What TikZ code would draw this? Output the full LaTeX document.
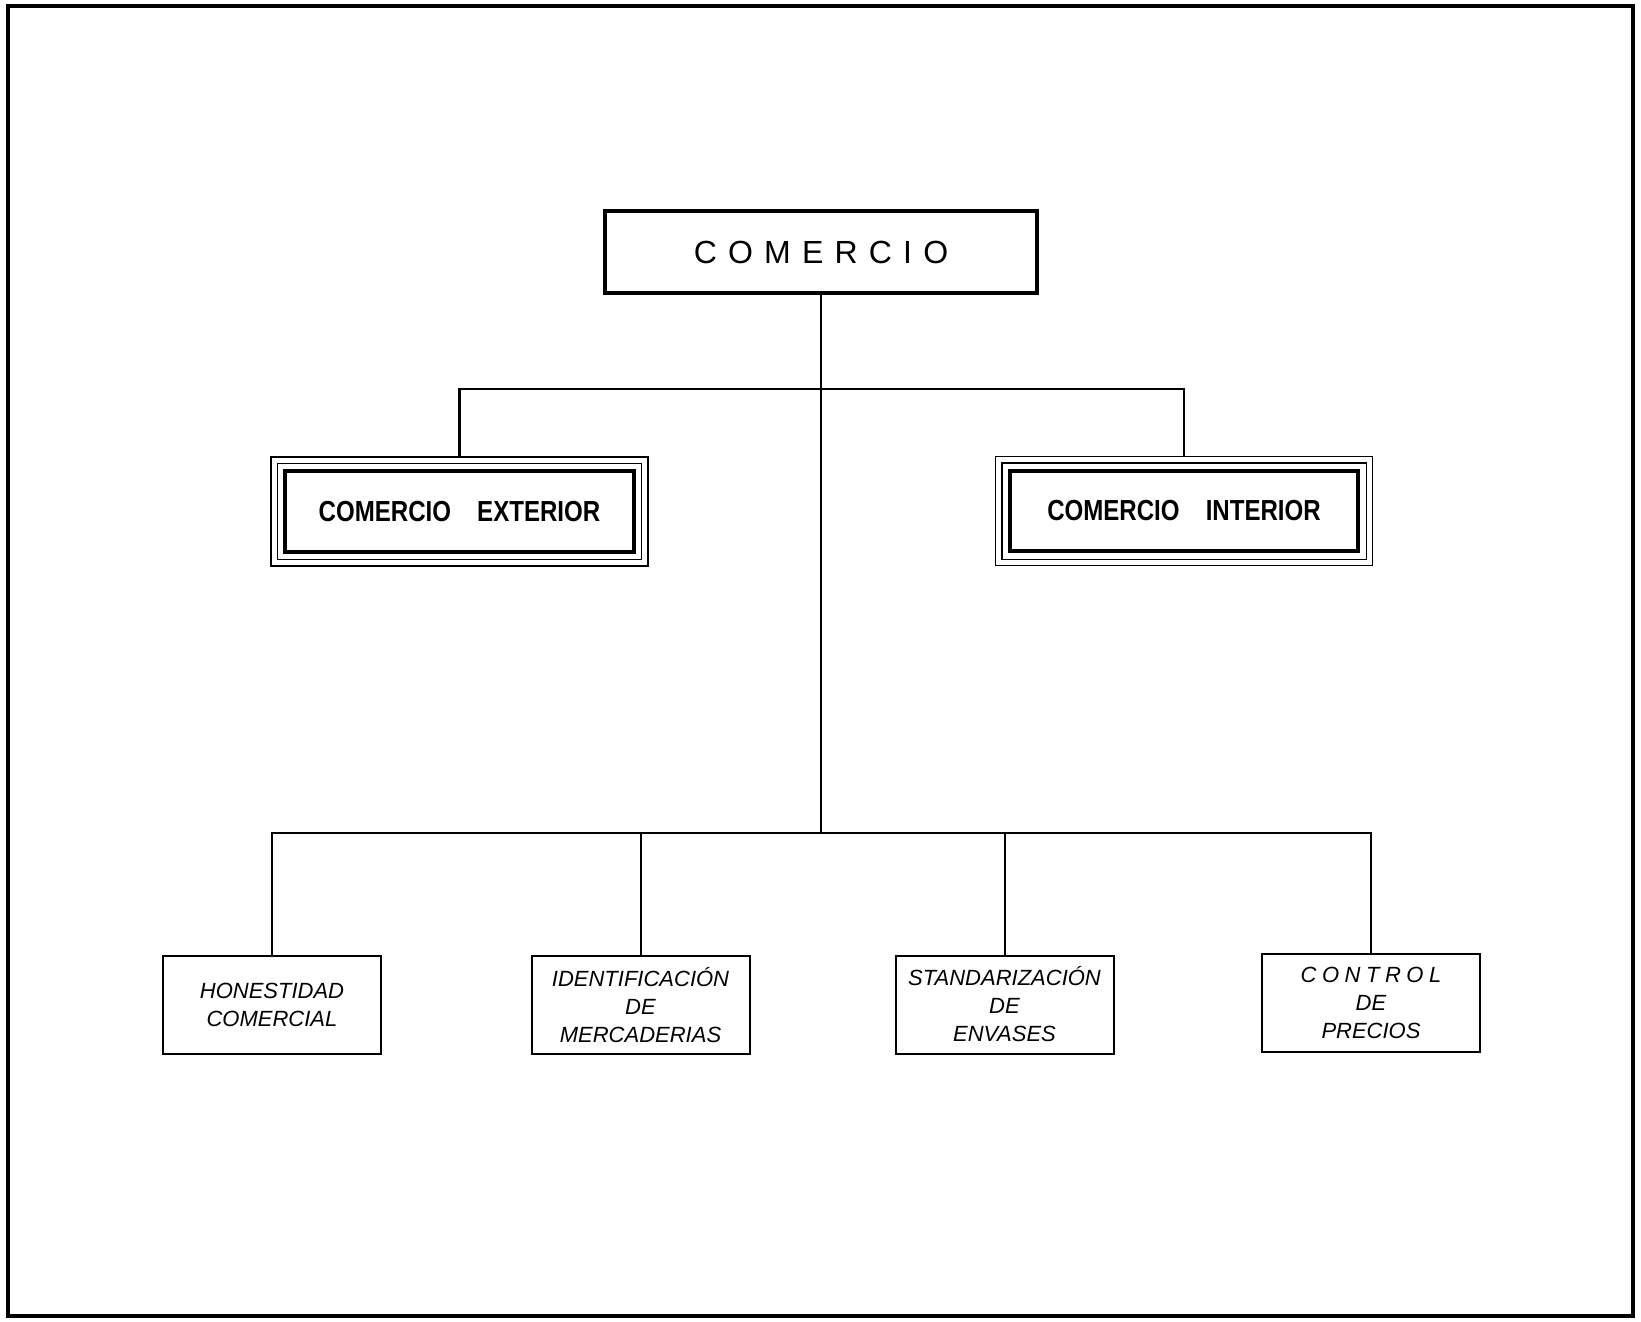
\documentclass[tikz,border=0pt]{standalone}
\usepackage{fontspec}
\setmainfont{Liberation Sans}
\newfontfamily\headfont[LetterSpace=35]{Liberation Sans}
\newfontfamily\areafont[FakeStretch=0.83]{Liberation Sans}
\newfontfamily\spacedfont[LetterSpace=25]{Liberation Sans}
\usetikzlibrary{positioning}

\begin{document}
\begin{tikzpicture}[x=0.5pt, y=-0.5pt,
  topbox/.style={draw, line width=2pt, minimum width=216pt, minimum height=40.5pt, font=\headfont\fontsize{16}{19}\selectfont},
  areabox/.style={draw, line width=0.7pt, minimum width=188.5pt, minimum height=54.5pt, font=\areafont\bfseries\fontsize{14.5}{17}\selectfont},
  taskbox/.style={draw, line width=1pt, minimum width=109pt, minimum height=49pt, align=center, font=\itshape\fontsize{11}{14}\selectfont},
  link/.style={line width=1pt}]
  \useasboundingbox (0,0) rectangle (1641,1321);
  % sheet frame
  \draw[line width=2pt] (8,6) rectangle (1633,1316);
  % head
  \node[topbox] (comercio) at (821,252) {COMERCIO};
  % two areas, framed three times
  \node[areabox] (exterior) at (459.5,511.5) {COMERCIO\hspace{0.9em}EXTERIOR};
  \node[areabox] (interior) at (1184,511) {COMERCIO\hspace{0.9em}INTERIOR};
  \foreach \n in {exterior,interior}{
    \draw[line width=0.7pt] ([shift={(7,7)}]\n.north west) rectangle ([shift={(-7,-7)}]\n.south east);
    \draw[line width=2pt] ([shift={(15,15)}]\n.north west) rectangle ([shift={(-15,-15)}]\n.south east);
  }
  % tasks
  \node[taskbox] (honestidad) at (272,1005) {HONESTIDAD\\COMERCIAL};
  \node[taskbox] (identificacion) at (640.5,1005) {IDENTIFICACIÓN\\DE\\MERCADERIAS};
  \node[taskbox] (envases) at (1004.5,1004.5) {STANDARIZACIÓN\\DE\\ENVASES};
  \node[taskbox] (precios) at (1371,1002.5) {{\spacedfont CONTROL}\\DE\\PRECIOS};
  % connectors
  \coordinate (upbar) at (821,389);
  \coordinate (lowbar) at (821,833);
  \draw[link] (comercio.south) -- (lowbar);
  \draw[link, line width=1.4pt] (exterior.north) |- (upbar) -| (interior.north);
  \draw[link] (honestidad.north) |- (lowbar) -| (precios.north);
  \draw[link] (identificacion.north) -- (identificacion.north |- lowbar);
  \draw[link] (envases.north) -- (envases.north |- lowbar);
\end{tikzpicture}
\end{document}
